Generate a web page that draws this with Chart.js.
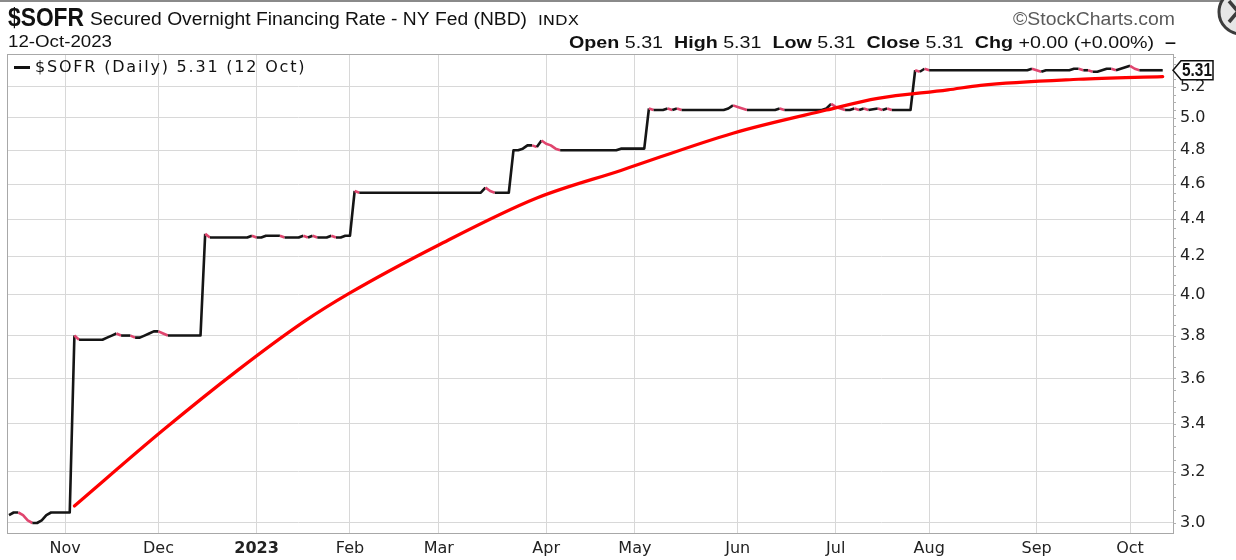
<!DOCTYPE html>
<html>
<head>
<meta charset="utf-8">
<script src="https://cdn.jsdelivr.net/npm/chart.js@4.4.0/dist/chart.umd.min.js"></script>
<style>
  html, body { margin: 0; padding: 0; background: #fff; }
  #wrap { width: 1236px; height: 560px; }
</style>
</head>
<body>
<div id="wrap"><canvas id="sofrChart" width="1236" height="560"></canvas></div>
<script>
/* x axis counts NY business days from the first bar */
const firstDay = "2022-10-14";
const holidays = ["2022-11-11", "2022-11-24", "2022-12-26", "2023-01-02", "2023-01-16", "2023-02-20",
  "2023-04-07", "2023-05-29", "2023-06-19", "2023-07-04", "2023-09-04", "2023-10-09"];

const monthStarts = ["2022-11-01", "2022-12-01", "2023-01-03", "2023-02-01", "2023-03-01", "2023-04-03",
  "2023-05-01", "2023-06-01", "2023-07-03", "2023-08-01", "2023-09-01", "2023-10-02"];
const monthLabels = ["Nov", "Dec", "2023", "Feb", "Mar", "Apr", "May", "Jun", "Jul", "Aug", "Sep", "Oct"];

const yTicks = [3.0, 3.2, 3.4, 3.6, 3.8, 4.0, 4.2, 4.4, 4.6, 4.8, 5.0, 5.2];

// $SOFR daily (vertices where the rate moves)
const sofrDates = [
  "2022-10-14", "2022-10-17", "2022-10-18", "2022-10-19", "2022-10-20", "2022-10-21", "2022-10-24",
  "2022-10-25", "2022-10-26", "2022-10-27", "2022-10-28", "2022-10-31", "2022-11-01", "2022-11-02",
  "2022-11-03", "2022-11-04", "2022-11-14", "2022-11-15", "2022-11-16", "2022-11-17", "2022-11-18",
  "2022-11-22", "2022-11-23", "2022-11-25", "2022-11-28", "2022-11-29", "2022-11-30", "2022-12-01",
  "2022-12-02", "2022-12-05", "2022-12-14", "2022-12-15", "2022-12-16", "2022-12-29", "2022-12-30",
  "2023-01-03", "2023-01-04", "2023-01-05", "2023-01-10", "2023-01-11", "2023-01-17", "2023-01-18",
  "2023-01-19", "2023-01-20", "2023-01-23", "2023-01-25", "2023-01-26", "2023-01-27", "2023-01-30",
  "2023-01-31", "2023-02-01", "2023-02-02", "2023-02-03", "2023-03-14", "2023-03-15", "2023-03-16",
  "2023-03-17", "2023-03-22", "2023-03-23", "2023-03-24", "2023-03-27", "2023-03-28", "2023-03-29",
  "2023-03-30", "2023-03-31", "2023-04-03", "2023-04-04", "2023-04-05", "2023-04-06", "2023-04-25",
  "2023-04-26", "2023-05-03", "2023-05-04", "2023-05-05", "2023-05-09", "2023-05-10", "2023-05-11",
  "2023-05-12", "2023-05-15", "2023-05-26", "2023-05-30", "2023-05-31", "2023-06-01", "2023-06-02",
  "2023-06-05", "2023-06-13", "2023-06-14", "2023-06-15", "2023-06-28", "2023-06-29", "2023-06-30",
  "2023-07-03", "2023-07-05", "2023-07-06", "2023-07-07", "2023-07-10", "2023-07-11", "2023-07-12",
  "2023-07-13", "2023-07-17", "2023-07-18", "2023-07-19", "2023-07-20", "2023-07-26", "2023-07-27",
  "2023-07-28", "2023-07-31", "2023-08-01", "2023-08-30", "2023-08-31", "2023-09-01", "2023-09-05",
  "2023-09-06", "2023-09-13", "2023-09-14", "2023-09-15", "2023-09-18", "2023-09-19", "2023-09-20",
  "2023-09-21", "2023-09-22", "2023-09-25", "2023-09-26", "2023-09-27", "2023-09-28", "2023-09-29",
  "2023-10-02", "2023-10-03", "2023-10-04", "2023-10-12"];
const sofrValues = [
  3.03, 3.04, 3.04, 3.03, 3.01, 3.00, 3.00,
  3.01, 3.03, 3.04, 3.04, 3.04, 3.04, 3.04,
  3.80, 3.78, 3.78, 3.79, 3.80, 3.81, 3.80,
  3.80, 3.79, 3.79, 3.80, 3.81, 3.82, 3.82,
  3.81, 3.80, 3.80, 4.32, 4.30, 4.30, 4.31,
  4.30, 4.30, 4.31, 4.31, 4.30, 4.30, 4.31,
  4.30, 4.31, 4.30, 4.30, 4.31, 4.30, 4.30,
  4.31, 4.31, 4.56, 4.55, 4.55, 4.58, 4.56,
  4.55, 4.55, 4.80, 4.80, 4.81, 4.83, 4.83,
  4.82, 4.86, 4.84, 4.83, 4.81, 4.80, 4.80,
  4.81, 4.81, 5.06, 5.05, 5.05, 5.06, 5.05,
  5.06, 5.05, 5.05, 5.06, 5.08, 5.07, 5.06,
  5.05, 5.05, 5.06, 5.05, 5.05, 5.06, 5.09,
  5.07, 5.06, 5.05, 5.05, 5.06, 5.05, 5.06,
  5.05, 5.06, 5.05, 5.06, 5.05, 5.05, 5.31,
  5.30, 5.32, 5.31, 5.31, 5.32, 5.31, 5.30,
  5.31, 5.31, 5.32, 5.32, 5.31, 5.31, 5.30,
  5.30, 5.31, 5.32, 5.32, 5.31, 5.32, 5.33,
  5.34, 5.32, 5.31, 5.31];

// red moving average overlay
const avgDates = ["2022-11-03", "2022-12-02", "2022-12-27", "2023-01-18", "2023-02-01", "2023-03-01",
  "2023-03-30", "2023-04-26", "2023-05-31", "2023-06-29", "2023-07-17", "2023-08-07", "2023-08-16",
  "2023-09-15", "2023-10-12"];
const avgValues = [3.065, 3.373, 3.638, 3.865, 4.01, 4.26,
  4.52, 4.68, 4.905, 5.05, 5.125, 5.18, 5.21,
  5.25, 5.268];

const quoteLabels = ["Open", "High", "Low", "Close", "Chg"];
const quoteValues = ["5.31", "5.31", "5.31", "5.31", "+0.00 (+0.00%)"];
const lastValue = 5.31;
const lastDate = "12 Oct";
const asOf = "12-Oct-2023";

function tradingIndex(dateStr) {
  const start = new Date(`${firstDay}T00:00:00Z`);
  const end = new Date(`${dateStr}T00:00:00Z`);
  let n = 0;
  for (let d = new Date(start); d < end; d.setUTCDate(d.getUTCDate() + 1)) {
    const wd = d.getUTCDay();
    if (wd !== 0 && wd !== 6 && !holidays.includes(d.toISOString().slice(0, 10))) n += 1;
  }
  return n;
}

const sofrPoints = sofrDates.map((d, i) => ({ x: tradingIndex(d), y: sofrValues[i] }));
const avgPoints = avgDates.map((d, i) => ({ x: tradingIndex(d), y: avgValues[i] }));
const monthIdx = monthStarts.map(tradingIndex);

const NARROW = "\"Liberation Sans Narrow\", \"Liberation Sans\", Arial, sans-serif";
const WIDE = "\"DejaVu Sans\", Verdana, sans-serif";

function fitText(ctx, text, x, y, width, font, color) {
  ctx.save();
  ctx.font = font;
  ctx.fillStyle = color;
  ctx.textBaseline = "middle";
  ctx.textAlign = "left";
  const w = ctx.measureText(text).width;
  ctx.translate(x, y);
  ctx.scale(width / w, 1);
  ctx.fillText(text, 0, 0);
  ctx.restore();
}

const framePlugin = {
  id: "frame",
  beforeDatasetsDraw(chart) {
    const { ctx, chartArea: a } = chart;
    ctx.save();
    ctx.strokeStyle = "#a8a8a8";
    ctx.lineWidth = 1;
    ctx.strokeRect(a.left + 0.5, a.top + 0.5, a.right - a.left, a.bottom - a.top);
    // small minor ticks outside the right border
    const ys = chart.scales.y;
    ctx.strokeStyle = "#b0b0b0";
    for (let v = 2.95; v < 5.45; v += 0.05) {
      const py = Math.round(ys.getPixelForValue(v)) + 0.5;
      if (py < a.top || py > a.bottom) continue;
      ctx.beginPath();
      ctx.moveTo(a.right, py);
      ctx.lineTo(a.right + 3, py);
      ctx.stroke();
    }
    ctx.restore();
  },
  afterDraw(chart) {
    const { ctx, chartArea: a } = chart;
    ctx.save();

    // top border of the picture and the corner button
    ctx.fillStyle = "#8a8a8a";
    ctx.fillRect(0, 0, 1236, 2);
    ctx.beginPath();
    ctx.arc(1241, 12, 22, 0, Math.PI * 2);
    ctx.fillStyle = "#e6e6e6";
    ctx.fill();
    ctx.lineWidth = 3;
    ctx.strokeStyle = "#3c3c3c";
    ctx.stroke();
    ctx.lineWidth = 3.5;
    ctx.beginPath();
    ctx.moveTo(1229, 1);
    ctx.lineTo(1245, 20);
    ctx.moveTo(1229, 22);
    ctx.lineTo(1245, 3);
    ctx.stroke();

    // header
    fitText(ctx, "$SOFR", 8, 19, 76, `bold 25px ${NARROW}`, "#111");
    fitText(ctx, "Secured Overnight Financing Rate - NY Fed (NBD)", 90, 20, 437, `18px ${NARROW}`, "#111");
    fitText(ctx, "INDX", 538, 21, 41, `14px ${WIDE}`, "#111");
    fitText(ctx, asOf, 8, 43, 104, `16px ${NARROW}`, "#111");
    fitText(ctx, "©StockCharts.com", 1013, 20, 162, `18px ${NARROW}`, "#5a5a5a");

    // quote line
    const runs = [];
    quoteLabels.forEach((lab, i) => {
      runs.push({ text: lab, bold: true });
      runs.push({ text: ` ${quoteValues[i]}  `, bold: false });
    });
    runs.push({ text: "–", bold: true });
    let total = 0;
    runs.forEach((r) => {
      ctx.font = `${r.bold ? "bold " : ""}17px ${NARROW}`;
      r.w = ctx.measureText(r.text).width;
      total += r.w;
    });
    const k = (1176 - 569) / total;
    ctx.save();
    ctx.translate(569, 43);
    ctx.scale(k, 1);
    ctx.textBaseline = "middle";
    ctx.fillStyle = "#111";
    let cx = 0;
    runs.forEach((r) => {
      ctx.font = `${r.bold ? "bold " : ""}17px ${NARROW}`;
      ctx.fillText(r.text, cx, 0);
      cx += r.w;
    });
    ctx.restore();

    // legend inside the plot
    ctx.fillStyle = "#111";
    ctx.fillRect(a.left + 7, 66, 16, 3);
    ctx.font = `16px ${WIDE}`;
    if ("letterSpacing" in ctx) ctx.letterSpacing = "1.8px";
    ctx.textBaseline = "middle";
    ctx.fillText(`$SOFR (Daily) ${lastValue.toFixed(2)} (${lastDate})`, 35, 68);
    if ("letterSpacing" in ctx) ctx.letterSpacing = "0px";

    // last value tag
    const y = chart.scales.y.getPixelForValue(lastValue);
    ctx.beginPath();
    ctx.moveTo(a.right, y);
    ctx.lineTo(a.right + 8, y - 9.5);
    ctx.lineTo(a.right + 40, y - 9.5);
    ctx.lineTo(a.right + 40, y + 9.5);
    ctx.lineTo(a.right + 8, y + 9.5);
    ctx.closePath();
    ctx.fillStyle = "#fff";
    ctx.fill();
    ctx.lineWidth = 1.5;
    ctx.strokeStyle = "#111";
    ctx.stroke();
    ctx.restore();
    fitText(ctx, lastValue.toFixed(2), a.right + 9, y + 1, 30, `bold 18px ${NARROW}`, "#111");
  },
};

const ctx = document.getElementById("sofrChart").getContext("2d");

const chart = new Chart(ctx, {
  type: "line",
  data: {
    datasets: [
      {
        label: "MA",
        data: avgPoints,
        borderColor: "#ff0000",
        borderWidth: 3.2,
        pointRadius: 0,
        cubicInterpolationMode: "monotone",
        borderCapStyle: "round",
      },
      {
        label: "$SOFR",
        data: sofrPoints,
        borderColor: "#151515",
        borderWidth: 2.6,
        pointRadius: 0,
        tension: 0,
        borderJoinStyle: "round",
        segment: {
          borderColor: (c) => (c.p1.parsed.y < c.p0.parsed.y ? "#e0456e" : "#151515"),
        },
      },
    ],
  },
  options: {
    responsive: false,
    animation: false,
    layout: { padding: { left: 7, top: 54, right: 0, bottom: 0 } },
    plugins: { legend: { display: false }, tooltip: { enabled: false } },
    scales: {
      x: {
        type: "linear",
        min: -0.43,
        max: 249.2,
        afterBuildTicks: (s) => { s.ticks = monthIdx.map((v) => ({ value: v })); },
        afterFit: (s) => { s.height = 27; },
        ticks: {
          autoSkip: false,
          maxRotation: 0,
          padding: 6,
          color: "#222",
          callback: (v, i) => monthLabels[i],
          font: (c) => ({ family: WIDE, size: 16, weight: c.index === 2 ? "bold" : "normal" }),
        },
        grid: { color: "#d8d8d8", drawTicks: false },
        border: { color: "#a8a8a8" },
      },
      y: {
        type: "logarithmic",
        position: "right",
        min: 2.9624,
        max: 5.42,
        afterBuildTicks: (s) => { s.ticks = yTicks.map((v) => ({ value: v })); },
        afterFit: (s) => { s.width = 63; },
        ticks: {
          padding: 7,
          color: "#222",
          font: { family: WIDE, size: 16 },
          callback: (v) => Number(v).toFixed(1),
        },
        grid: { color: "#d8d8d8", drawTicks: false },
        border: { color: "#a8a8a8" },
      },
    },
  },
  plugins: [framePlugin],
});
</script>
</body>
</html>
